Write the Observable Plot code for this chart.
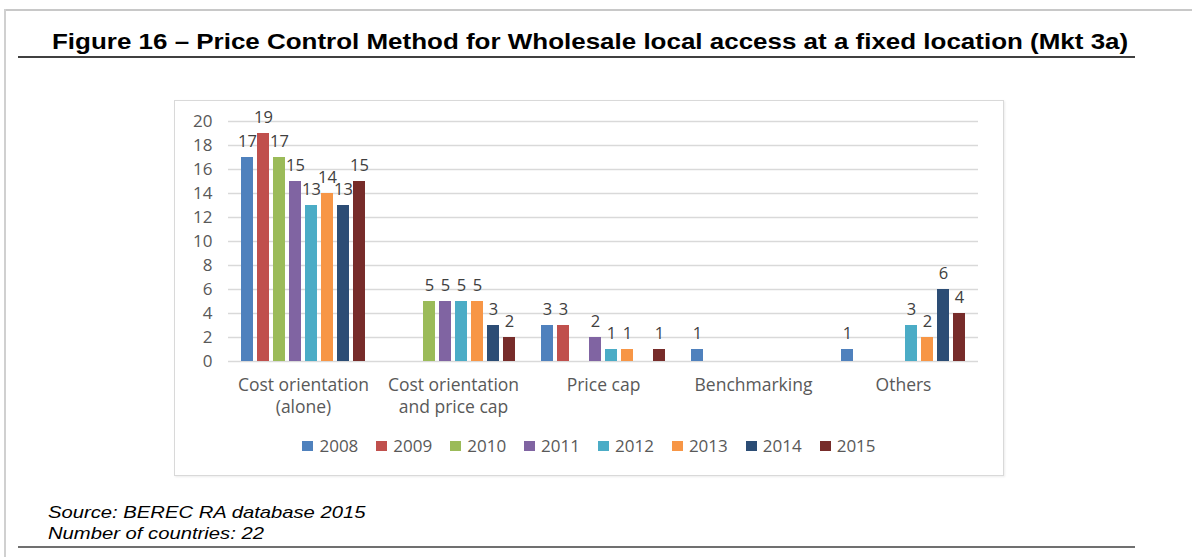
<!DOCTYPE html>
<html>
<head>
<meta charset="utf-8">
<script src="https://cdn.jsdelivr.net/npm/d3@7"></script>
<script src="https://cdn.jsdelivr.net/npm/@observablehq/plot@0.6"></script>
<style>
  html, body { margin: 0; padding: 0; background: #fff; }
  body { width: 1192px; height: 557px; position: relative; overflow: hidden; font-family: "Liberation Sans", Arial, sans-serif; }
  .topline { position: absolute; left: 4px; top: 9px; width: 1188px; height: 2px; background: #c8c8c8; }
  .leftline { position: absolute; left: 4px; top: 9px; width: 2px; height: 548px; background: #d0d0d0; }
  .title { position: absolute; left: 52px; top: 29px; font-weight: bold; font-size: 22px; color: #000; white-space: nowrap; transform: scaleX(1.18); transform-origin: left top; }
  .rule1 { position: absolute; left: 18px; top: 56px; width: 1117px; height: 2px; background: #404040; }
  .box { position: absolute; left: 174px; top: 100px; width: 828px; height: 374px; border: 1px solid #d9d9d9; box-shadow: 1px 1px 2px rgba(0,0,0,0.08); }
  #chart { position: absolute; left: 174px; top: 100px; }
  .legend { position: absolute; left: 174px; top: 434px; width: 830px; display: flex; justify-content: center; font-family: "Open Sans", sans-serif; font-size: 17px; color: #595959; }
  .legend .item { display: flex; align-items: center; margin: 0 9px; }
  .legend .sw { width: 11px; height: 10px; margin-right: 6px; }
  .caption { position: absolute; left: 48px; top: 502px; font-style: italic; font-size: 17px; line-height: 21px; color: #000; white-space: nowrap; transform: scaleX(1.19); transform-origin: left top; }
  .rule2 { position: absolute; left: 18px; top: 546px; width: 1117px; height: 2px; background: #707070; }
</style>
</head>
<body>
<div class="topline"></div>
<div class="leftline"></div>
<div class="title">Figure 16 – Price Control Method for Wholesale local access at a fixed location (Mkt 3a)</div>
<div class="rule1"></div>
<div class="box"></div>
<div id="chart"></div>
<div class="legend" id="legend"></div>
<div class="caption">Source: BEREC RA database 2015<br>Number of countries: 22</div>
<div class="rule2"></div>
<script>
const categories = ["Cost orientation (alone)", "Cost orientation and price cap", "Price cap", "Benchmarking", "Others"];
const categoryLabels = ["Cost orientation\n(alone)", "Cost orientation\nand price cap", "Price cap", "Benchmarking", "Others"];
const years = ["2008", "2009", "2010", "2011", "2012", "2013", "2014", "2015"];
const colors = ["#4F81BD", "#C0504D", "#9BBB59", "#8064A2", "#4BACC6", "#F79646", "#2C4D75", "#772C2A"];
const costAlone    = [17, 19, 17, 15, 13, 14, 13, 15];
const costAndCap   = [0, 0, 5, 5, 5, 5, 3, 2];
const priceCap     = [3, 3, 0, 2, 1, 1, 0, 1];
const benchmarking = [1, 0, 0, 0, 0, 0, 0, 0];
const others       = [1, 0, 0, 0, 3, 2, 6, 4];
const yTicks = [0, 2, 4, 6, 8, 10, 12, 14, 16, 18, 20];

const series = [costAlone, costAndCap, priceCap, benchmarking, others];
const data = [];
categories.forEach((c, i) => years.forEach((y, j) => data.push({category: c, year: y, value: series[i][j]})));
const nonZero = data.filter(d => d.value > 0);

const chart = Plot.plot({
  width: 829,
  height: 320,
  marginLeft: 54,
  marginRight: 25,
  marginTop: 21,
  marginBottom: 59,
  style: {fontFamily: "'Open Sans', sans-serif", fontSize: "17px", color: "#595959", background: "transparent", overflow: "visible"},
  fx: {domain: categories, padding: 0, axis: null},
  x: {domain: years, paddingInner: 0.25, paddingOuter: 0.8125, axis: null},
  y: {domain: [0, 20], ticks: yTicks, tickSize: 0, tickPadding: 16, label: null},
  color: {domain: years, range: colors},
  marks: [
    Plot.ruleY(yTicks, {stroke: "#d9d9d9", strokeWidth: 1.3}),
    Plot.barY(data, {fx: "category", x: "year", y: "value", fill: "year"}),
    Plot.text(nonZero, {fx: "category", x: "year", y: "value", text: d => String(d.value), lineAnchor: "bottom", dy: -11, fill: "#404040", fontSize: 16.5}),
    Plot.text(categories, {fx: d => d, text: (d, i) => categoryLabels[i], frameAnchor: "bottom", lineAnchor: "top", dy: 13, lineHeight: 1.3, fill: "#595959", fontSize: 17.5}),
    Plot.axisY({ticks: yTicks, tickSize: 0, tickPadding: 16, fill: "#595959", fontSize: 17, label: null})
  ]
});
document.getElementById("chart").appendChild(chart);

const legend = document.getElementById("legend");
years.forEach((y, i) => {
  const it = document.createElement("div");
  it.className = "item";
  it.innerHTML = `<span class="sw" style="background:${colors[i]}"></span><span>${y}</span>`;
  legend.appendChild(it);
});
</script>
</body>
</html>
